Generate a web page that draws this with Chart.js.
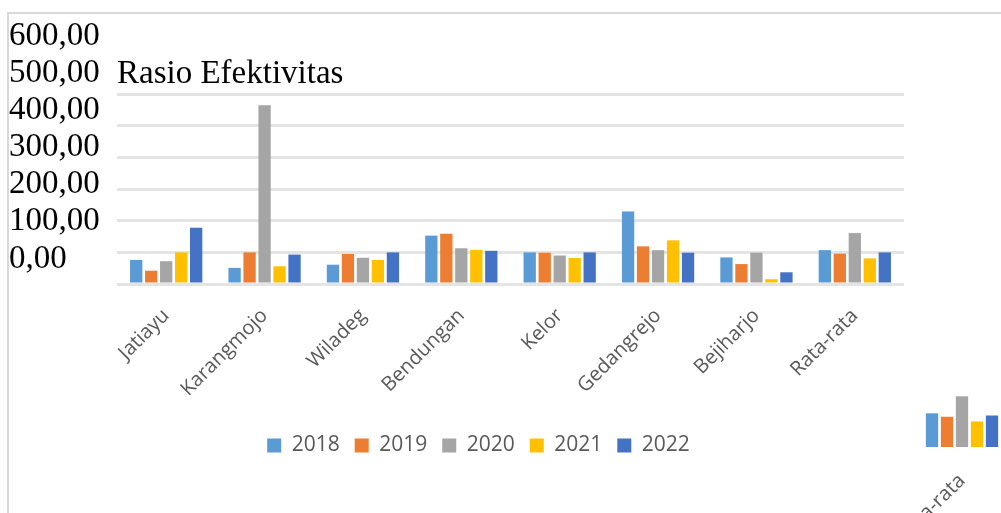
<!DOCTYPE html>
<html>
<head>
<meta charset="utf-8">
<script src="https://cdn.jsdelivr.net/npm/chart.js@4"></script>
<style>
html,body{margin:0;padding:0;background:#fff;width:1001px;height:513px;overflow:hidden}
#frame{position:absolute;left:7px;top:12px;width:1000px;height:510px;border-left:2px solid #d9d9d9;border-top:2px solid #d9d9d9;box-sizing:border-box}
canvas{position:absolute;filter:blur(0.6px)}
#main{left:0;top:0}
#piece{left:913px;top:258px}
</style>
</head>
<body>
<div id="frame"></div>
<canvas id="main" width="952" height="513"></canvas>
<canvas id="piece" width="98" height="330"></canvas>
<script>
const categories = ['Jatiayu','Karangmojo','Wiladeg','Bendungan','Kelor','Gedangrejo','Bejiharjo','Rata-rata'];
const years = ['2018','2019','2020','2021','2022'];
const s2018 = [76, 51, 61, 153, 100, 229, 84, 107];
const s2019 = [42, 100, 95, 159, 99, 119, 63, 96];
const s2020 = [72, 565, 83, 113, 90, 107, 99, 161];
const s2021 = [100, 56, 76, 108, 82, 138, 15, 81];
const s2022 = [178, 93, 100, 105, 100, 99, 37, 100];
const colors = ['#5b9bd5','#ed7d31','#a5a5a5','#ffc000','#4472c4'];
const gridValues = [0,100,200,300,400,500,600];
const labelValues = [600,500,400,300,200,100,0];
const title = 'Rasio Efektivitas';
const series = [s2018,s2019,s2020,s2021,s2022];
const ticksOf = arr => arr.map(v => ({value:v}));
const xFit = h => s => { s.height = h; s.paddingLeft = 0; s.paddingRight = 0; };

const shiftLegend = {id:'shiftLegend', afterLayout(chart){ chart.legend.left += 22; chart.legend.right += 22; }};

new Chart(document.getElementById('main'), {
  type:'bar',
  plugins:[shiftLegend],
  data:{labels:categories, datasets:years.map((y,i)=>({label:y,data:series[i],backgroundColor:colors[i],borderWidth:0,
    categoryPercentage:0.762,barPercentage:0.82,yAxisID:'y'}))},
  options:{
    responsive:false,animation:false,
    layout:{autoPadding:false,padding:{left:9,right:48,top:0,bottom:47}},
    plugins:{
      tooltip:{enabled:false},
      title:{display:true,text:title,align:'start',fullSize:false,color:'#000',
        font:{family:'"Liberation Serif"',size:33,weight:'normal',lineHeight:1.2},
        padding:{top:55,bottom:-60.6}},
      legend:{position:'bottom',labels:{boxWidth:14,boxHeight:14,padding:15,color:'#595959',
        font:{family:'"Open Sans"',size:21}}}
    },
    scales:{
      x:{grid:{display:false},border:{display:false},
        afterFit:xFit(136),
        ticks:{color:'#595959',font:{family:'"Open Sans"',size:20},minRotation:45,maxRotation:45,autoSkip:false,padding:12}},
      y2:{position:'left',min:-67.6,max:605.4,weight:2,grid:{display:false},border:{display:false},
        afterBuildTicks:s=>{s.ticks=ticksOf(labelValues);},
        afterFit:s=>{s.width=108;},
        ticks:{color:'#000',font:{family:'"Liberation Serif"',size:33},crossAlign:'far',padding:0,autoSkip:false,
          callback:v=>v.toFixed(2).replace('.',',')}},
      y:{position:'left',min:0,max:790.476,weight:1,border:{display:false},
        grid:{color:'#e4e4e4',lineWidth:3,drawTicks:false},
        afterBuildTicks:s=>{s.ticks=ticksOf(gridValues);},
        afterFit:s=>{s.width=0;},
        ticks:{display:false}}
    }
  }
});

const last = categories.length-1;
new Chart(document.getElementById('piece'), {
  type:'bar',
  data:{labels:[categories[last]], datasets:years.map((y,i)=>({label:y,data:[series[i][last]],backgroundColor:colors[i],borderWidth:0,
    categoryPercentage:0.765,barPercentage:0.82}))},
  options:{
    responsive:false,animation:false,
    layout:{autoPadding:false,padding:0},
    plugins:{tooltip:{enabled:false},title:{display:false},legend:{display:false}},
    scales:{
      x:{grid:{display:false},border:{display:false},
        afterFit:xFit(141),
        ticks:{color:'#595959',font:{family:'"Open Sans"',size:20},minRotation:45,maxRotation:45,autoSkip:false,padding:14}},
      y:{display:false,min:0,max:600}
    }
  }
});
</script>
</body>
</html>
